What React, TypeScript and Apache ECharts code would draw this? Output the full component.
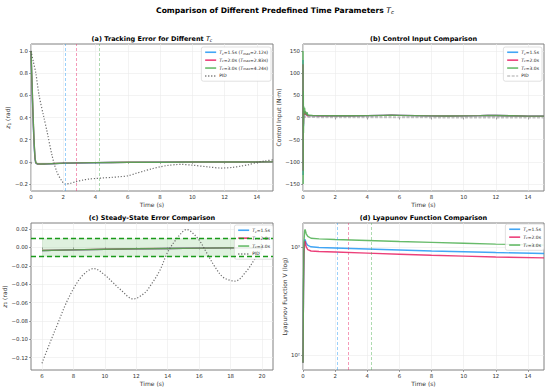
import React, { useEffect, useRef } from "react";
import * as echarts from "echarts";

const FONT = "DejaVu Sans";

// ---------- (a) tracking error ----------
const T_A = [0, 0.05, 0.1, 0.15, 0.2, 0.25, 0.3, 0.4, 0.6, 0.8, 1, 1.5, 2, 3, 4, 5, 6, 8, 10, 12, 15];
const Z_A_15 = [1.0, 0.74, 0.5, 0.3, 0.13, 0.02, -0.012, -0.02, -0.021, -0.02, -0.019, -0.016, -0.013, -0.01, -0.008, -0.006, -0.0045, -0.003, -0.002, -0.0012, -0.0005];
const Z_A_20 = [1.0, 0.76, 0.53, 0.32, 0.15, 0.03, -0.01, -0.019, -0.02, -0.019, -0.018, -0.015, -0.012, -0.009, -0.007, -0.0055, -0.004, -0.0028, -0.0019, -0.0012, -0.0005];
const Z_A_30 = [1.0, 0.78, 0.55, 0.34, 0.16, 0.04, -0.008, -0.018, -0.02, -0.019, -0.018, -0.015, -0.012, -0.009, -0.007, -0.0055, -0.0042, -0.003, -0.002, -0.0013, -0.0006];
const T_PID_A = [0, 0.15, 0.3, 0.5, 0.8, 1.0, 1.3, 1.6, 1.9, 2.1, 2.4, 2.8, 3.2, 3.6, 4, 4.5, 5, 5.5, 6, 6.5, 7, 7.5, 8, 8.5, 9, 9.3, 10, 11, 11.8, 12.5, 13, 13.5, 14, 14.5, 15];
const Z_PID_A = [1.0, 0.9, 0.8, 0.6, 0.4, 0.27, 0.06, -0.09, -0.17, -0.2, -0.195, -0.178, -0.165, -0.155, -0.15, -0.145, -0.14, -0.134, -0.126, -0.104, -0.083, -0.062, -0.045, -0.032, -0.0246, -0.023, -0.03, -0.046, -0.056, -0.05, -0.039, -0.025, -0.005, 0.008, 0.018];
const T_MAX = [2.12, 2.83, 4.24];

// ---------- (b) control input ----------
const T_B = [0, 0.01, 0.02, 0.03, 0.05, 0.07, 0.1, 0.13, 0.16, 0.2, 0.25, 0.3, 0.4, 0.6, 1, 2, 3, 4, 5, 5.5, 6, 7, 8, 9, 10, 11, 11.5, 12, 13, 14, 15];
const U_15 = [130, -130, 30, -20, 15, 8, 12, 8, 10, 5, 9, 4.5, 4.3, 4.2, 4.0, 3.8, 3.8, 4.2, 4.8, 5, 4.8, 4.2, 3.6, 3.4, 3.6, 4.2, 4.6, 4.4, 3.8, 3.2, 3];
const U_20 = [120, -120, 25, -15, 12, 6, 10, 14, 6, 10, 4, 4.5, 4.3, 4.2, 4.0, 3.8, 3.8, 4.2, 4.8, 5, 4.8, 4.2, 3.6, 3.4, 3.6, 4.2, 4.6, 4.4, 3.8, 3.2, 3];
const U_30 = [150, -150, 60, -35, 25, 8, 22, 10, 14, 6, 12, 5, 5, 4.6, 4.3, 3.9, 3.8, 4.2, 4.8, 5, 4.8, 4.2, 3.6, 3.4, 3.6, 4.2, 4.6, 4.4, 3.8, 3.2, 3];
const T_PID_B = [0, 0.5, 1, 2, 3, 4, 6, 8, 10, 12, 14, 15];
const U_PID = [1.5, 1.2, 1.0, 0.9, 0.8, 0.7, 0.6, 0.5, 0.5, 0.4, 0.3, 0.3];

// ---------- (c) steady-state error ----------
const T_C = [6, 8, 10, 12, 14, 16, 18, 20];
const Z_C_15 = [-0.0035, -0.0027, -0.0021, -0.0016, -0.0012, -0.0008, -0.0005, -0.0003];
const Z_C_20 = [-0.0034, -0.0026, -0.002, -0.0015, -0.0011, -0.0008, -0.0005, -0.0003];
const Z_C_30 = [-0.0033, -0.0026, -0.002, -0.0015, -0.0011, -0.0007, -0.0005, -0.0003];
const T_PID_C = [6, 6.5, 7, 7.5, 8, 8.5, 9, 9.3, 10, 10.5, 11, 11.8, 12.5, 13, 13.5, 14, 14.5, 15, 15.2, 15.5, 16, 16.5, 17, 17.5, 18, 18.3, 19, 19.5, 20];
const Z_PID_C = [-0.126, -0.104, -0.083, -0.062, -0.045, -0.032, -0.0246, -0.023, -0.03, -0.038, -0.046, -0.056, -0.05, -0.039, -0.025, -0.005, 0.008, 0.018, 0.0195, 0.017, 0.008, -0.0065, -0.021, -0.032, -0.036, -0.0366, -0.026, -0.0137, -0.001];
const BAND = 0.01;

// ---------- (d) Lyapunov ----------
const T_D = [0, 0.03, 0.06, 0.1, 0.13, 0.2, 0.3, 0.5, 1, 2, 4, 6, 8, 10, 12, 15];
const V_15 = [85, 400, 900, 1150, 1170, 1080, 1030, 1000, 985, 975, 955, 935, 915, 900, 885, 867];
const V_20 = [85, 380, 850, 1100, 1130, 1000, 940, 915, 905, 895, 875, 855, 835, 820, 805, 790];
const V_30 = [85, 450, 1100, 1400, 1450, 1320, 1250, 1200, 1185, 1170, 1145, 1120, 1100, 1080, 1060, 1037];

// ---------- ticks ----------
const X_TICKS = [0, 2, 4, 6, 8, 10, 12, 14];
const YA_TICKS = [-0.2, 0, 0.2, 0.4, 0.6, 0.8, 1.0];
const YB_TICKS = [-150, -100, -50, 0, 50, 100, 150];
const XC_TICKS = [6, 8, 10, 12, 14, 16, 18, 20];
const YC_TICKS = [-0.12, -0.1, -0.08, -0.06, -0.04, -0.02, 0, 0.02];
const YD_TICKS = [2, 3];

const BLUE = "#2196F3";
const PINK = "#E91E63";
const GREEN = "#4CAF50";
const GRAY = "#555555";
const COLORS = [BLUE, PINK, GREEN];
const TXT = "#333333";

const zip = (t: number[], v: number[]) => t.map((x, i) => [x, v[i]]);
const zipLog = (t: number[], v: number[]) => t.map((x, i) => [x, Math.log10(v[i])]);
const minus = (s: string) => s.replace("-", "\u2212");

const LEGEND_TEXT: Record<string, string> = {
  a15: "{i|T}{s|c}=1.5s ({i|T}{s|max}=2.12s)",
  a20: "{i|T}{s|c}=2.0s ({i|T}{s|max}=2.83s)",
  a30: "{i|T}{s|c}=3.0s ({i|T}{s|max}=4.24s)",
  aPID: "PID",
  b15: "{i|T}{s|c}=1.5s",
  b20: "{i|T}{s|c}=2.0s",
  b30: "{i|T}{s|c}=3.0s",
  bPID: "PID",
  c15: "{i|T}{s|c}=1.5s",
  c20: "{i|T}{s|c}=2.0s",
  c30: "{i|T}{s|c}=3.0s",
  cPID: "PID",
  d15: "{i|T}{s|c}=1.5s",
  d20: "{i|T}{s|c}=2.0s",
  d30: "{i|T}{s|c}=3.0s",
};

const legendRich = {
  i: { fontStyle: "italic", fontSize: 4.5, fontFamily: FONT, color: "#222" },
  s: { fontStyle: "italic", fontSize: 3.3, fontFamily: FONT, color: "#222", verticalAlign: "bottom", padding: [2, 0, 0, 0] },
};

function makeLegend(names: string[], right: number, top: number) {
  return {
    orient: "vertical",
    right,
    top,
    data: names,
    formatter: (n: string) => LEGEND_TEXT[n],
    itemWidth: 11,
    itemHeight: 4,
    itemGap: 2.4,
    padding: [2.5, 3, 2.5, 3],
    backgroundColor: "rgba(255,255,255,0.85)",
    borderColor: "#cccccc",
    borderWidth: 0.6,
    borderRadius: 2,
    selectedMode: false,
    itemStyle: { color: "transparent", borderColor: "transparent", borderWidth: 0, opacity: 0 },
    lineStyle: { width: 1.6 },
    textStyle: { fontSize: 4.5, fontFamily: FONT, color: "#222", lineHeight: 5.5, padding: [0, 0, 0, -2], rich: legendRich },
  };
}

function xAxisCfg(gridIndex: number, min: number, max: number, ticks: number[]) {
  return {
    type: "value",
    gridIndex,
    min,
    max,
    name: "Time (s)",
    nameLocation: "middle",
    nameGap: 10,
    nameTextStyle: { fontSize: 6, fontFamily: FONT, color: TXT },
    axisLine: { show: false, lineStyle: { color: TXT } },
    axisTick: { show: true, customValues: ticks, length: 2, lineStyle: { color: "#666", width: 0.6 } },
    axisLabel: { customValues: ticks, fontSize: 5.4, fontFamily: FONT, color: TXT, margin: 3, formatter: (v: number) => String(v) },
    splitLine: { show: true, lineStyle: { color: "#ebebeb", width: 0.6 } },
  };
}

function yAxisCfg(gridIndex: number, min: number, max: number, ticks: number[], fmt: (v: number) => string, name: string, nameGap: number) {
  return {
    type: "value",
    gridIndex,
    min,
    max,
    name,
    nameLocation: "middle",
    nameGap,
    nameTextStyle: {
      fontSize: 6,
      fontFamily: FONT,
      color: TXT,
      rich: {
        i: { fontStyle: "italic", fontSize: 6, fontFamily: FONT, color: TXT },
        s: { fontSize: 4.3, fontFamily: FONT, color: TXT, verticalAlign: "bottom", padding: [3, 0, 0, 0] },
      },
    },
    axisLine: { show: false, lineStyle: { color: TXT } },
    axisTick: { show: true, customValues: ticks, length: 2, lineStyle: { color: "#666", width: 0.6 } },
    axisLabel: { customValues: ticks, fontSize: 5.4, fontFamily: FONT, color: TXT, margin: 3, formatter: fmt },
    splitLine: { show: true, lineStyle: { color: "#ebebeb", width: 0.6 } },
  };
}

function lineSeries(name: string, idx: number, data: number[][], color: string, extra: any = {}) {
  return {
    type: "line",
    name,
    xAxisIndex: idx,
    yAxisIndex: idx,
    data,
    showSymbol: false,
    symbol: "none",
    color,
    lineStyle: { color, width: 1.4, opacity: 0.85 },
    emphasis: { disabled: true },
    silent: true,
    ...extra,
  };
}

function vLines(idx: number) {
  return T_MAX.map((x, i) => ({
    type: "line",
    name: "vl" + idx + "_" + i,
    xAxisIndex: idx,
    yAxisIndex: idx,
    data: [],
    silent: true,
    markLine: {
      silent: true,
      symbol: ["none", "none"],
      label: { show: false },
      lineStyle: { color: COLORS[i], type: [3, 2], width: 0.9, opacity: 0.5 },
      data: [{ xAxis: x }],
    },
  }));
}

const titleRich = {
  i: { fontStyle: "italic", fontWeight: "normal", fontFamily: FONT, color: "#000" },
  s: { fontStyle: "italic", fontWeight: "normal", fontFamily: FONT, color: "#000", verticalAlign: "bottom" },
};

function subTitle(text: string, cx: number, top: number) {
  return {
    text,
    left: cx,
    top,
    textAlign: "center",
    padding: 0,
    textStyle: {
      fontSize: 6.5,
      fontWeight: "bold",
      fontFamily: FONT,
      color: "#000",
      rich: {
        i: { ...titleRich.i, fontSize: 6.5 },
        s: { ...titleRich.s, fontSize: 4.6, padding: [3, 0, 0, 0] },
      },
    },
  };
}

export default function App() {
  const ref = useRef<HTMLDivElement>(null);
  useEffect(() => {
    if (!ref.current) return;
    const chart = echarts.init(ref.current, undefined, { renderer: "svg" });
    const grids = [
      { left: 31, top: 44, width: 242, height: 147 },
      { left: 303, top: 44, width: 241, height: 147 },
      { left: 31, top: 223, width: 242, height: 147 },
      { left: 303, top: 223, width: 241, height: 147 },
    ].map((g) => ({ ...g, show: true, borderColor: "#808080", borderWidth: 1, backgroundColor: "transparent" }));

    const fmt1 = (v: number) => minus(v.toFixed(1));
    const fmt2 = (v: number) => minus(v.toFixed(2));
    const fmt0 = (v: number) => minus(String(v));
    const fmtLog = (v: number) => (Math.round(v) === 2 ? "10\u00B2" : "10\u00B3");

    const option: any = {
      animation: false,
      backgroundColor: "#ffffff",
      title: [
        {
          text: "Comparison of Different Predefined Time Parameters {i|T}{s|c}",
          left: 275,
          top: 6,
          padding: 0,
          textAlign: "center",
          textStyle: {
            fontSize: 7.6,
            fontWeight: "bold",
            fontFamily: FONT,
            color: "#000",
            rich: {
              i: { ...titleRich.i, fontSize: 7.6 },
              s: { ...titleRich.s, fontSize: 5.4, padding: [3, 0, 0, 0] },
            },
          },
        },
        subTitle("(a) Tracking Error for Different {i|T}{s|c}", 152, 35),
        subTitle("(b) Control Input Comparison", 423.5, 35),
        subTitle("(c) Steady-State Error Comparison", 152, 214),
        subTitle("(d) Lyapunov Function Comparison", 423.5, 214),
      ],
      grid: grids,
      xAxis: [
        xAxisCfg(0, 0, 15, X_TICKS),
        xAxisCfg(1, 0, 15, X_TICKS),
        xAxisCfg(2, 5.3, 20.7, XC_TICKS),
        xAxisCfg(3, 0, 15, X_TICKS),
      ],
      yAxis: [
        yAxisCfg(0, -0.263, 1.063, YA_TICKS, fmt1, "{i|z}{s|1} (rad)", 16),
        yAxisCfg(1, -166, 166, YB_TICKS, fmt0, "Control Input (N\u00B7m)", 17),
        yAxisCfg(2, -0.1334, 0.0266, YC_TICKS, fmt2, "{i|z}{s|1} (rad)", 20),
        yAxisCfg(3, 1.862, 3.22, YD_TICKS, fmtLog, "Lyapunov Function V (log)", 16),
      ],
      legend: [
        makeLegend(["a15", "a20", "a30", "aPID"], 279, 47),
        makeLegend(["b15", "b20", "b30", "bPID"], 8, 47),
        makeLegend(["c15", "c20", "c30", "cPID"], 277, 225),
        makeLegend(["d15", "d20", "d30"], 6, 224),
      ],
      series: [
        // (a)
        ...vLines(0),
        lineSeries("a15", 0, zip(T_A, Z_A_15), BLUE),
        lineSeries("a20", 0, zip(T_A, Z_A_20), PINK),
        lineSeries("a30", 0, zip(T_A, Z_A_30), GREEN),
        lineSeries("aPID", 0, zip(T_PID_A, Z_PID_A), GRAY, {
          smooth: 0.3,
          lineStyle: { color: GRAY, width: 1.2, type: [1.2, 1.8], opacity: 0.85 },
        }),
        // (b)
        lineSeries("b15", 1, zip(T_B, U_15), BLUE),
        lineSeries("b20", 1, zip(T_B, U_20), PINK),
        lineSeries("b30", 1, zip(T_B, U_30), GREEN),
        lineSeries("bPID", 1, zip(T_PID_B, U_PID), "#9e9e9e", {
          z: 1,
          lineStyle: { color: "#9e9e9e", width: 2.2, type: [3, 1.5], opacity: 0.6 },
        }),
        // (c)
        lineSeries("c15", 2, zip(T_C, Z_C_15), BLUE, {
          markArea: {
            silent: true,
            itemStyle: { color: "rgba(76,175,80,0.18)" },
            data: [[{ xAxis: T_C[0], yAxis: -BAND }, { xAxis: T_C[T_C.length - 1], yAxis: BAND }]],
          },
          markLine: {
            silent: true,
            symbol: ["none", "none"],
            label: { show: false },
            lineStyle: { color: "#1a9a1a", type: [5, 3], width: 1.3, opacity: 1 },
            data: [{ yAxis: BAND }, { yAxis: -BAND }],
          },
        }),
        lineSeries("c20", 2, zip(T_C, Z_C_20), PINK),
        lineSeries("c30", 2, zip(T_C, Z_C_30), GREEN),
        lineSeries("cPID", 2, zip(T_PID_C, Z_PID_C), GRAY, {
          smooth: 0.35,
          lineStyle: { color: GRAY, width: 1.2, type: [1.2, 1.8], opacity: 0.85 },
        }),
        // (d)
        ...vLines(3),
        lineSeries("d15", 3, zipLog(T_D, V_15), BLUE),
        lineSeries("d20", 3, zipLog(T_D, V_20), PINK),
        lineSeries("d30", 3, zipLog(T_D, V_30), GREEN),
      ],
    };
    chart.setOption(option);
    return () => chart.dispose();
  }, []);
  return <div ref={ref} style={{ width: 550, height: 391, position: "absolute", left: 0, top: 0 }} />;
}
